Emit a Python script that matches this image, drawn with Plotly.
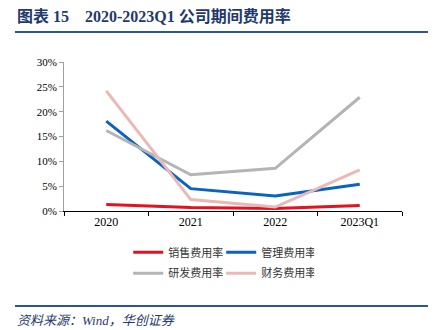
import plotly.graph_objects as go

categories = ["2020", "2021", "2022", "2023Q1"]
sales = [1.3, 0.7, 0.5, 1.1]
admin = [18.1, 4.5, 3.0, 5.4]
rnd = [16.2, 7.3, 8.6, 22.9]
finance = [24.2, 2.3, 0.8, 8.3]
names = ["销售费用率", "管理费用率", "研发费用率", "财务费用率"]
colors = ["#E3121E", "#0A63BE", "#B4B4B4", "#EBB8B8"]
legends = ["legend", "legend", "legend2", "legend2"]
yticks = [0, 5, 10, 15, 20, 25, 30]

fig = go.Figure()
for name, vals, col, lg in zip(names, [sales, admin, rnd, finance], colors, legends):
    fig.add_trace(go.Scatter(
        x=categories, y=vals, name=name, mode="lines",
        line=dict(color=col, width=3), legend=lg,
    ))

leg_font = dict(family="Noto Sans CJK SC", size=11, color="#333333")
fig.update_layout(
    width=445, height=330,
    margin=dict(l=64, r=43, t=62, b=119),
    paper_bgcolor="white", plot_bgcolor="white",
    showlegend=True,
    legend=dict(orientation="h", x=0.19, y=-0.18, xanchor="left", yanchor="top",
                entrywidth=48, entrywidthmode="pixels", font=leg_font,
                bgcolor="rgba(0,0,0,0)", tracegroupgap=0, itemwidth=30),
    legend2=dict(orientation="h", x=0.19, y=-0.32, xanchor="left", yanchor="top",
                 entrywidth=48, entrywidthmode="pixels", font=leg_font,
                 bgcolor="rgba(0,0,0,0)", tracegroupgap=0, itemwidth=30),
    xaxis=dict(type="category", range=[-0.5, 3.5], showgrid=False,
               showline=True, linecolor="#000000", linewidth=1,
               ticks="outside", tickson="boundaries", ticklen=4, tickcolor="#000000",
               tickfont=dict(family="Liberation Serif", size=12, color="#000000")),
    yaxis=dict(range=[0, 30], tickvals=yticks, ticktext=[f"{v}%" for v in yticks],
               showgrid=False, zeroline=False,
               showline=True, linecolor="#A0A0A0", linewidth=1,
               ticks="outside", ticklen=4, tickcolor="#A0A0A0",
               tickfont=dict(family="Liberation Serif", size=11, color="#000000")),
)

title_col = "#1F3A6E"
fig.add_annotation(xref="paper", yref="paper", x=(15-64)/338, y=1 + (62-16)/149,
                   xanchor="left", yanchor="middle", showarrow=False,
                   text="<b>图表 15　2020-2023Q1 公司期间费用率</b>",
                   font=dict(family="Liberation Serif, Noto Sans CJK SC", size=16, color=title_col))
fig.add_shape(type="line", xref="paper", yref="paper",
              x0=-49/338, x1=(428-64)/338, y0=1 + (62-32)/149, y1=1 + (62-32)/149,
              line=dict(color="#2B5597", width=2))
fig.add_shape(type="line", xref="paper", yref="paper",
              x0=-49/338, x1=(428-64)/338, y0=-(306-211)/149, y1=-(306-211)/149,
              line=dict(color="#2B5597", width=2))
fig.add_annotation(xref="paper", yref="paper", x=-49/338, y=-(320-211)/149,
                   xanchor="left", yanchor="middle", showarrow=False,
                   text="<i>资料来源：Wind，华创证券</i>",
                   font=dict(family="Liberation Serif, Noto Sans CJK SC", size=13, color=title_col))

fig.write_html("out.html")
